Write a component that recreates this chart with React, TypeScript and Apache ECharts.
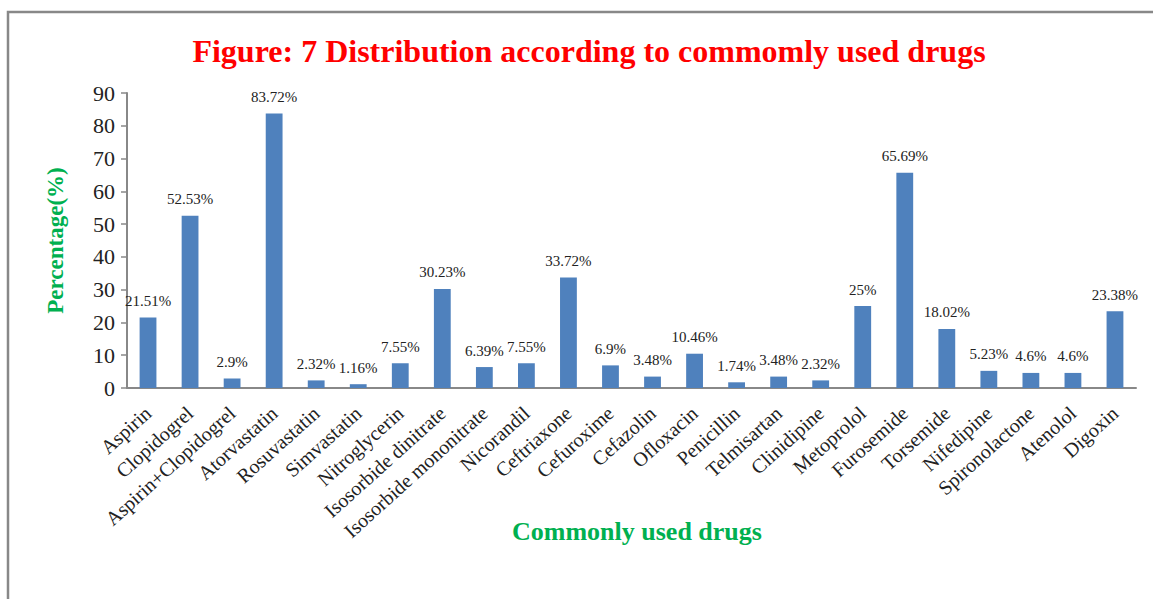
import React, { useEffect, useRef } from "react";
import * as echarts from "echarts";

const categories = [
  "Aspirin", "Clopidogrel", "Aspirin+Clopidogrel", "Atorvastatin", "Rosuvastatin",
  "Simvastatin", "Nitroglycerin", "Isosorbide dinitrate", "Isosorbide mononitrate",
  "Nicorandil", "Ceftriaxone", "Cefuroxime", "Cefazolin", "Ofloxacin", "Penicillin",
  "Telmisartan", "Clinidipine", "Metoprolol", "Furosemide", "Torsemide", "Nifedipine",
  "Spironolactone", "Atenolol", "Digoxin",
];
const values = [
  21.51, 52.53, 2.9, 83.72, 2.32, 1.16, 7.55, 30.23, 6.39, 7.55, 33.72, 6.9, 3.48,
  10.46, 1.74, 3.48, 2.32, 25, 65.69, 18.02, 5.23, 4.6, 4.6, 23.38,
];
const yTicks = [0, 10, 20, 30, 40, 50, 60, 70, 80, 90];

const SERIF = "'Liberation Serif', 'DejaVu Serif', serif";

export default function App() {
  const ref = useRef<HTMLDivElement>(null);
  useEffect(() => {
    document.body.style.margin = "0";
    const chart = echarts.init(ref.current!, null, { renderer: "svg" });
    chart.setOption({
      animation: false,
      backgroundColor: "#fff",
      title: {
        text: "Figure: 7 Distribution according to commomly used drugs",
        left: 584,
        textAlign: "center",
        top: 30,
        textStyle: { color: "#ff0000", fontFamily: SERIF, fontWeight: "bold", fontSize: 32 },
      },
      graphic: [
        {
          type: "polyline",
          shape: { points: [[8, 599], [8, 12], [1153, 12]] },
          style: { stroke: "#888", lineWidth: 2.5, fill: "none" },
        },
        {
          type: "text",
          left: 512,
          top: 518,
          style: {
            text: "Commonly used drugs",
            fill: "#00b050",
            font: `bold 26px ${SERIF}`,
          },
        },
      ],
      grid: { left: 127, right: 17, top: 93, bottom: 211 },
      xAxis: {
        type: "category",
        data: categories,
        axisLine: { lineStyle: { color: "#888", width: 2 } },
        axisTick: { show: false },
        axisLabel: {
          interval: 0,
          rotate: 42,
          margin: 22,
          color: "#222",
          fontFamily: SERIF,
          fontSize: 20,
        },
      },
      yAxis: {
        type: "value",
        min: yTicks[0],
        max: yTicks[yTicks.length - 1],
        interval: 10,
        name: "Percentage(%)",
        nameLocation: "middle",
        nameGap: 60,
        nameTextStyle: { color: "#00b050", fontFamily: SERIF, fontWeight: "bold", fontSize: 23 },
        axisLine: { show: true, lineStyle: { color: "#888", width: 2 } },
        axisTick: { show: true, length: 6, lineStyle: { color: "#888", width: 1.5 } },
        splitLine: { show: false },
        axisLabel: { color: "#222", fontFamily: SERIF, fontSize: 22, margin: 12 },
      },
      series: [
        {
          type: "bar",
          data: values,
          barWidth: "40%",
          itemStyle: { color: "#4f81bd" },
          label: {
            show: true,
            position: "top",
            distance: 9,
            formatter: (p: any) => `${p.value}%`,
            color: "#222",
            fontFamily: SERIF,
            fontSize: 15,
          },
        },
      ],
    });
    return () => chart.dispose();
  }, []);
  return <div ref={ref} style={{ width: 1153, height: 599 }} />;
}
